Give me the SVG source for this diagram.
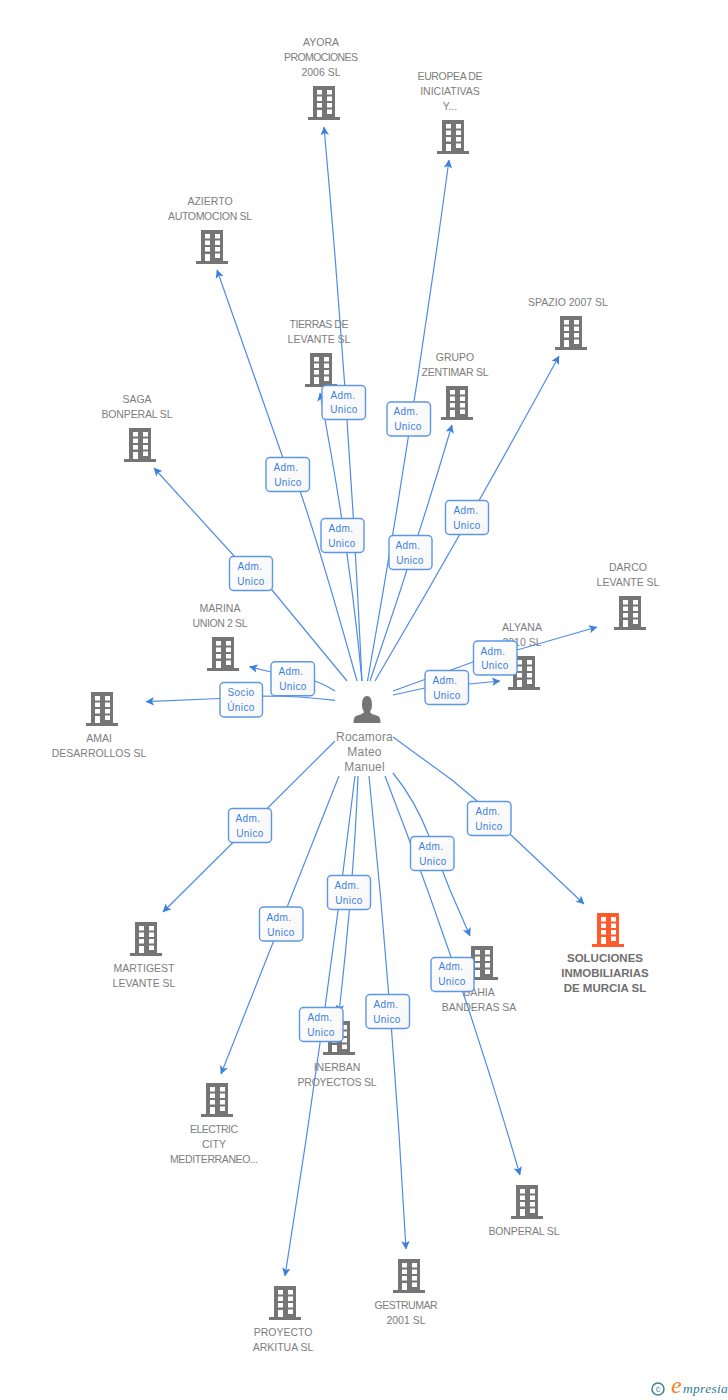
<svg xmlns="http://www.w3.org/2000/svg" width="728" height="1400" viewBox="0 0 728 1400">
<style>
text{font-family:"Liberation Sans",Arial,sans-serif}
.n{font-size:10.5px;fill:#7d7d7d;text-anchor:middle}
.b{font-size:11.5px;fill:#6f6f6f;font-weight:bold;text-anchor:middle}
.p{font-size:12px;fill:#858585;text-anchor:middle;letter-spacing:.2px}
.c path{fill:none;stroke:#4f8ce4;stroke-width:1.2;marker-end:url(#a)}
.l rect{fill:url(#g);stroke:#5c96e6;stroke-width:1.4}
.l text{font-size:10px;fill:#3b7fe0;text-anchor:middle;letter-spacing:.4px}
</style>
<defs>
<linearGradient id="g" x1="0" y1="0" x2="1" y2="1"><stop offset="0" stop-color="#fff"/><stop offset="1" stop-color="#f6f6f6"/></linearGradient>
<marker id="a" markerUnits="userSpaceOnUse" viewBox="0 0 10 10" refX="9.500" refY="5" markerWidth="8.500" markerHeight="10.500" orient="auto"><path d="M0,0 L10,5 L0,10 L2.500,5 z" fill="#3b80e0"/></marker>
<g id="bd">
<path fill-rule="evenodd" d="M5,0H27V31H32V34H0V31H5Z M9,4V8.500H14V4Z M19,4V8.500H24V4Z M9,10.500V15H14V10.500Z M19,10.500V15H24V10.500Z M9,17V21.500H14V17Z M19,17V21.500H24V17Z M9,24V31H14V24Z M19,23.500V28H24V23.500Z"/>
</g>
</defs>
<rect width="728" height="1400" fill="#fff"/>

<g id="n-ayora" fill="#757575"><use href="#bd" x="308" y="86"/><text class="n" x="321" y="46">AYORA</text><text class="n" x="321" y="61" textLength="74">PROMOCIONES</text><text class="n" x="321" y="76">2006 SL</text></g>
<g id="n-europea" fill="#757575"><use href="#bd" x="437" y="120"/><text class="n" x="450" y="80" textLength="65">EUROPEA DE</text><text class="n" x="450" y="95">INICIATIVAS</text><text class="n" x="450" y="110">Y...</text></g>
<g id="n-azierto" fill="#757575"><use href="#bd" x="196" y="230"/><text class="n" x="210" y="205">AZIERTO</text><text class="n" x="210" y="220" textLength="84">AUTOMOCION SL</text></g>
<g id="n-tierras" fill="#757575"><use href="#bd" x="305" y="353"/><text class="n" x="319" y="328" textLength="59">TIERRAS DE</text><text class="n" x="319" y="343">LEVANTE SL</text></g>
<g id="n-grupo" fill="#757575"><use href="#bd" x="441" y="386"/><text class="n" x="455" y="361">GRUPO</text><text class="n" x="455" y="376" textLength="67">ZENTIMAR SL</text></g>
<g id="n-spazio" fill="#757575"><use href="#bd" x="555" y="316"/><text class="n" x="568" y="306">SPAZIO 2007 SL</text></g>
<g id="n-saga" fill="#757575"><use href="#bd" x="124" y="428"/><text class="n" x="137" y="403">SAGA</text><text class="n" x="137" y="418" textLength="71">BONPERAL SL</text></g>
<g id="n-darco" fill="#757575"><use href="#bd" x="614" y="596"/><text class="n" x="628" y="571">DARCO</text><text class="n" x="628" y="586">LEVANTE SL</text></g>
<g id="n-marina" fill="#757575"><use href="#bd" x="207" y="637"/><text class="n" x="220" y="612">MARINA</text><text class="n" x="220" y="627" textLength="55">UNION 2 SL</text></g>
<g id="n-alyana" fill="#757575"><use href="#bd" x="508" y="656"/><text class="n" x="522" y="631">ALYANA</text><text class="n" x="522" y="646">2010 SL</text></g>
<g id="n-amai" fill="#757575"><use href="#bd" x="86" y="692"/><text class="n" x="99" y="742">AMAI</text><text class="n" x="99" y="757">DESARROLLOS SL</text></g>
<g id="n-soluciones" fill="#ff5a2b"><use href="#bd" x="592" y="913"/><text class="b" x="605" y="962">SOLUCIONES</text><text class="b" x="605" y="977">INMOBILIARIAS</text><text class="b" x="605" y="992">DE MURCIA SL</text></g>
<g id="n-bahia" fill="#757575"><use href="#bd" x="466" y="946"/><text class="n" x="479" y="996">BAHIA</text><text class="n" x="479" y="1011">BANDERAS SA</text></g>
<g id="n-martigest" fill="#757575"><use href="#bd" x="130" y="922"/><text class="n" x="144" y="972">MARTIGEST</text><text class="n" x="144" y="987">LEVANTE SL</text></g>
<g id="n-inerban" fill="#757575"><use href="#bd" x="323" y="1021"/><text class="n" x="337" y="1071">INERBAN</text><text class="n" x="337" y="1086" textLength="79">PROYECTOS SL</text></g>
<g id="n-electric" fill="#757575"><use href="#bd" x="201" y="1083"/><text class="n" x="214" y="1133" textLength="48">ELECTRIC</text><text class="n" x="214" y="1148">CITY</text><text class="n" x="214" y="1163" textLength="88">MEDITERRANEO...</text></g>
<g id="n-bonperal" fill="#757575"><use href="#bd" x="511" y="1185"/><text class="n" x="524" y="1235" textLength="71">BONPERAL SL</text></g>
<g id="n-gestrumar" fill="#757575"><use href="#bd" x="393" y="1259"/><text class="n" x="406" y="1309" textLength="63">GESTRUMAR</text><text class="n" x="406" y="1324">2001 SL</text></g>
<g id="n-proyecto" fill="#757575"><use href="#bd" x="269" y="1286"/><text class="n" x="283" y="1336">PROYECTO</text><text class="n" x="283" y="1351">ARKITUA SL</text></g>

<g id="n-person"><path fill="#757575" d="M362,705 C362,699 364,696 367,696 C370,696 372,699 372,705 C372,708 371,710 370,712 C371,714 375,715 378,716 C380,717 380.500,720 380.500,723 H353.500 C353.500,720 354,717 356,716 C359,715 363,714 364,712 C363,710 362,708 362,705Z"/><text class="p" x="364.500" y="741">Rocamora</text><text class="p" x="364.500" y="756">Mateo</text><text class="p" x="364.500" y="771">Manuel</text></g>

<g id="connectors" class="c">
<path d="M362,681 Q349,403 324,127"/>
<path d="M367.500,681 Q414,420 449,160"/>
<path d="M357,681 C340,620 322,555 300,491 L283,458 L217,270"/>
<path d="M362,681 Q350,550 320,393"/>
<path d="M370,681 Q414,553 452,425"/>
<path d="M375,681 Q471,518 559,356"/>
<path d="M347,681 L272,590 L235,557 L154,468"/>
<path d="M393,691 L473,662 L517,650 L597,627"/>
<path d="M335,691 Q326,685 315,681 L271,672 L249.500,666.700"/>
<path d="M393,695 L425,688 L469,684 L500,681"/>
<path d="M335,700.300 Q300,696 262,696 L220,698.500 L146,701.700"/>
<path d="M393,737 L452,780 L477,801 L511,835 L584,904"/>
<path d="M393,773 Q415,800 429,836 L450,890 L470,936"/>
<path d="M335,741 L163,912"/>
<path d="M358,776 Q354,880 339,1013"/>
<path d="M339,776 L221,1074"/>
<path d="M385,776 Q462,975 520,1175"/>
<path d="M369,776 Q393,1012 406,1249"/>
<path d="M355,776 Q325,1026 285,1276"/>
</g>

<g id="labels" class="l">
<g><rect x="322" y="385.500" width="43.500" height="34" rx="4"/><text x="343" y="398.500">Adm.</text><text x="344" y="413">Unico</text></g>
<g><rect x="387" y="402" width="43.500" height="34" rx="4"/><text x="406" y="415">Adm.</text><text x="408" y="430">Unico</text></g>
<g><rect x="266" y="457.500" width="43.500" height="34" rx="4"/><text x="286" y="471">Adm.</text><text x="288" y="486">Unico</text></g>
<g><rect x="321" y="518.500" width="43" height="34" rx="4"/><text x="341" y="532">Adm.</text><text x="342" y="547">Unico</text></g>
<g><rect x="445.500" y="500.500" width="43" height="34" rx="4"/><text x="466" y="514">Adm.</text><text x="467" y="529">Unico</text></g>
<g><rect x="389" y="535.500" width="43" height="34" rx="4"/><text x="408" y="549">Adm.</text><text x="410" y="563.500">Unico</text></g>
<g><rect x="229.500" y="556.500" width="43" height="34" rx="4"/><text x="250" y="570">Adm.</text><text x="251" y="585">Unico</text></g>
<g><rect x="473.500" y="641" width="43.500" height="34" rx="4"/><text x="493" y="654.500">Adm.</text><text x="495" y="669">Unico</text></g>
<g><rect x="425" y="670.500" width="43.500" height="34" rx="4"/><text x="445" y="683.500">Adm.</text><text x="447" y="698.500">Unico</text></g>
<g><rect x="271" y="661.700" width="43.500" height="34" rx="4"/><text x="291" y="675">Adm.</text><text x="293" y="689.500">Unico</text></g>
<g><rect x="220" y="682.500" width="42.500" height="34.500" rx="4"/><text x="241" y="696">Socio</text><text x="241" y="711">Único</text></g>
<g><rect x="467.500" y="801.500" width="43.500" height="34" rx="4"/><text x="488" y="815">Adm.</text><text x="489" y="830">Unico</text></g>
<g><rect x="228.500" y="808.500" width="43" height="34" rx="4"/><text x="248" y="821.500">Adm.</text><text x="250" y="836.500">Unico</text></g>
<g><rect x="410.500" y="836.500" width="43.500" height="34" rx="4"/><text x="431" y="850">Adm.</text><text x="433" y="865">Unico</text></g>
<g><rect x="327.500" y="875.500" width="43" height="34" rx="4"/><text x="347" y="888.500">Adm.</text><text x="349" y="903.500">Unico</text></g>
<g><rect x="259.500" y="907" width="43.500" height="34" rx="4"/><text x="279" y="920.500">Adm.</text><text x="281" y="935.500">Unico</text></g>
<g><rect x="431" y="957.500" width="43" height="34" rx="4"/><text x="451" y="970">Adm.</text><text x="452" y="985">Unico</text></g>
<g><rect x="366" y="994.500" width="43.500" height="34" rx="4"/><text x="386" y="1007.500">Adm.</text><text x="387" y="1022.500">Unico</text></g>
<g><rect x="299.500" y="1007.500" width="43.500" height="34" rx="4"/><text x="320" y="1021">Adm.</text><text x="321" y="1036">Unico</text></g>
</g>

<g id="logo">
<circle cx="658" cy="1389" r="6" fill="none" stroke="#3f7f96" stroke-width="1.500"/>
<text x="658" y="1392" font-size="9" fill="#3f7f96" text-anchor="middle">c</text>
<text x="671" y="1393" font-size="24" font-style="italic" fill="#f58220" style="font-family:'Liberation Serif',serif">e</text>
<text x="683" y="1393" font-size="13.500" font-style="italic" fill="#2f7f96" letter-spacing=".3" style="font-family:'Liberation Serif',serif">mpresia</text>
</g>
</svg>
